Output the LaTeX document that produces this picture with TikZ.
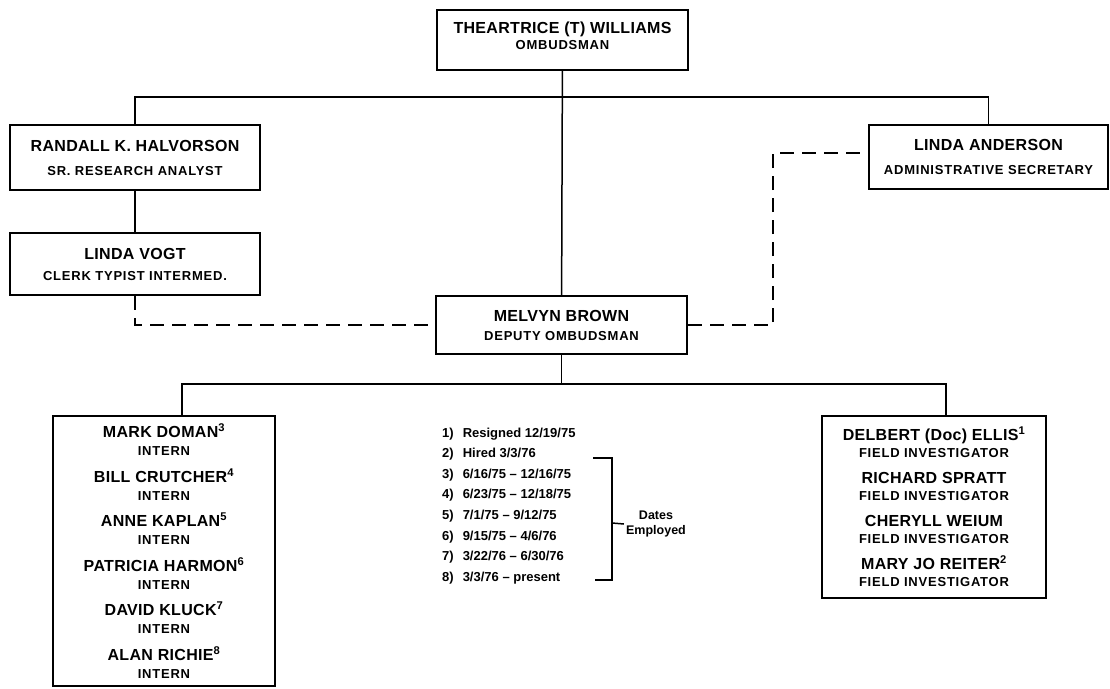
\documentclass[tikz,border=0pt]{standalone}
\usepackage{fontspec}
\setmainfont{Liberation Sans}
\usetikzlibrary{positioning}
\newcommand\namefont{\fontsize{16}{15}\selectfont\bfseries\addfontfeature{LetterSpace=2}}
\newcommand\titlefont{\fontsize{13}{15}\selectfont\bfseries\addfontfeature{LetterSpace=6}}
\newcommand\notefont{\fontsize{13}{12}\selectfont\bfseries}

\begin{document}
\begin{tikzpicture}[
  x=1pt, y=-1pt,
  post/.style={draw, line width=2pt, align=center, inner sep=0pt, font=\namefont},
  link/.style={line width=1.5pt},
  dotted link/.style={link, dash pattern=on 14pt off 8pt}]
  \useasboundingbox (0,0) rectangle (1110,688);
  % top of the office
  \node[post, minimum width=251pt, minimum height=60pt] (ombud) at (562.5,40)
    {THEARTRICE (T) WILLIAMS\\[1pt]{\titlefont OMBUDSMAN}\\[-7pt]\mbox{}};
  \node[post, minimum width=250pt, minimum height=65pt] (halvorson) at (135,157.5)
    {RANDALL K. HALVORSON\\[9pt]{\titlefont SR. RESEARCH ANALYST}};
  \node[post, minimum width=250pt, minimum height=62pt] (vogt) at (135,264)
    {LINDA VOGT\\[6pt]{\titlefont CLERK TYPIST INTERMED.}};
  \node[post, minimum width=239pt, minimum height=64pt] (anderson) at (988.5,157)
    {LINDA ANDERSON\\[9pt]{\titlefont ADMINISTRATIVE SECRETARY}};
  \node[post, minimum width=251pt, minimum height=58pt] (deputy) at (561.5,325)
    {MELVYN BROWN\\[4pt]{\titlefont DEPUTY OMBUDSMAN}};
  % staff under the deputy
  \node[post, minimum width=222pt, minimum height=270pt] (interns) at (164,551)
    {MARK DOMAN\textsuperscript{3}\\[3pt]{\titlefont INTERN}\\[11.5pt]
     BILL CRUTCHER\textsuperscript{4}\\[3pt]{\titlefont INTERN}\\[11.5pt]
     ANNE KAPLAN\textsuperscript{5}\\[3pt]{\titlefont INTERN}\\[11.5pt]
     PATRICIA HARMON\textsuperscript{6}\\[3pt]{\titlefont INTERN}\\[11.5pt]
     DAVID KLUCK\textsuperscript{7}\\[3pt]{\titlefont INTERN}\\[11.5pt]
     ALAN RICHIE\textsuperscript{8}\\[3pt]{\titlefont INTERN}};
  \node[post, minimum width=224pt, minimum height=182pt] (investigators) at (934,507)
    {DELBERT (Doc) ELLIS\textsuperscript{1}\\[2pt]{\titlefont FIELD INVESTIGATOR}\\[11pt]
     RICHARD SPRATT\\[2pt]{\titlefont FIELD INVESTIGATOR}\\[11pt]
     CHERYLL WEIUM\\[2pt]{\titlefont FIELD INVESTIGATOR}\\[11pt]
     MARY JO REITER\textsuperscript{2}\\[2pt]{\titlefont FIELD INVESTIGATOR}};
  % footnotes
  \node[anchor=base west, inner sep=0pt, font=\notefont] (notes) at (442,437)
    {\def\arraystretch{1.72}\begin{tabular}[t]{@{}l@{\hspace{9pt}}l@{}}
     1) & Resigned 12/19/75\\
     2) & Hired 3/3/76\\
     3) & 6/16/75 -- 12/16/75\\
     4) & 6/23/75 -- 12/18/75\\
     5) & 7/1/75 -- 9/12/75\\
     6) & 9/15/75 -- 4/6/76\\
     7) & 3/22/76 -- 6/30/76\\
     8) & 3/3/76 -- present
     \end{tabular}};
  \node[align=center, inner sep=2pt, font=\fontsize{12.5}{15}\selectfont\bfseries] (dates) at (656,524) {Dates\\Employed};
  \coordinate (brtop) at (593,458);
  \coordinate (brbot) at (595,580);
  \coordinate (brmid) at (612,523);
  \draw[link] (brtop) -| (brmid) |- (brbot);
  \draw[link] (brmid) -- (dates.west);
  % lines of authority
  \draw[link] (ombud) -- (deputy);
  \draw[link] (halvorson.north) -- ++(0,-27) -| (anderson.north);
  \draw[link] (halvorson) -- (vogt);
  \draw[dotted link] (vogt.south) |- (deputy.west);
  \draw[dotted link] (deputy.east) -- ++(85,0) |- ([yshift=4pt]anderson.west);
  \draw[link] (deputy.south) -- ++(0,29) -| ([xshift=18pt]interns.north);
  \draw[link] (deputy.south) ++(0,29) -| ([xshift=12pt]investigators.north);
\end{tikzpicture}
\end{document}
